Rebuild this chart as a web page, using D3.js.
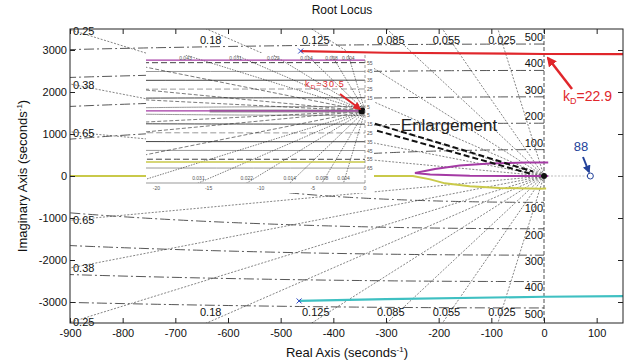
<!DOCTYPE html>
<html>
<head>
<meta charset="utf-8">
<script src="https://cdn.jsdelivr.net/npm/d3@7"></script>
<style>
  body { margin: 0; background: #fff; }
  text { font-family: "Liberation Sans", Arial, sans-serif; }
</style>
</head>
<body>
<div id="chart"></div>
<script>
// --- data ---
const xTicks = [-900, -800, -700, -600, -500, -400, -300, -200, -100, 0, 100];
const yTicks = [-3000, -2000, -1000, 0, 1000, 2000, 3000];
const dampingRatios = [0.025, 0.055, 0.085, 0.125, 0.18, 0.25, 0.38, 0.65];
const freqHz = [100, 200, 300, 400, 500];           // wn circles, labelled in Hz

// root locus branches [real, imag]
const redBranch = [[-462, 2975], [-300, 2935], [0, 2905], [150, 2900]];
const cyanBranch = [[-465, -2975], [-300, -2930], [0, -2875], [150, -2862]];
const yellowBranch = [[-900, 0], [-321, 0], [-249, 0], [-216, -80], [-188, -175], [-141, -245], [-84, -283], [-8, -306], [4, -300]];
const purpleBranch = [[8, 320], [-32, 320], [-103, 297], [-160, 249], [-207, 166], [-245, 71], [-216, 36], [-141, 5], [0, 0], [8, 0]];
const blackBranch1 = [[-321, 1244], [-170, 680], [-21, 107]];
const blackBranch2 = [[-317, 1078], [-170, 560], [-27, 59]];
const zeroPoint = 88;
const gainMain = 22.9;

// enlargement inset
const insetXTicks = [-20, -15, -10, -5, 0];
const insetDamping = [0.004, 0.008, 0.014, 0.022, 0.031, 0.043, 0.067, 0.139, 0.257];
const insetFreqHz = [5, 15, 25, 35, 45, 55, 65];
const insetPurple = [[-21, 364], [0, 364]];
const insetPurpleAxis = [[-21, 0], [0.3, 0]];
const insetYellow = [[-21, -364], [0, -364]];
const insetGrayAxis = [[-14.9, 0], [0, 0]];
const gainInset = 30.5;

// --- layout ---
const W = 635, H = 364;
const m = {left: 70, right: 623, top: 29, bottom: 323};

const svg = d3.select("#chart").append("svg")
  .attr("width", W).attr("height", H);

const defs = svg.append("defs");
defs.append("clipPath").attr("id", "plotClip")
  .append("rect").attr("x", m.left).attr("y", m.top)
  .attr("width", m.right - m.left).attr("height", m.bottom - m.top);

function arrowHead(id, color) {
  defs.append("marker").attr("id", id)
    .attr("viewBox", "0 0 10 10").attr("refX", 8).attr("refY", 5)
    .attr("markerWidth", 4).attr("markerHeight", 4).attr("orient", "auto")
    .append("path").attr("d", "M0,0L10,5L0,10z").attr("fill", color);
}
arrowHead("arRed", "#e0262b");
arrowHead("arBlue", "#23429a");

const x = d3.scaleLinear().domain([-900, 150]).range([m.left, m.right]);
const y = d3.scaleLinear().domain([-3500, 3500]).range([m.bottom, m.top]);
const line = d3.line().x(d => x(d[0])).y(d => y(d[1]));

const plot = svg.append("g").attr("clip-path", "url(#plotClip)");

// damping ratio lines (sgrid)
const far = 20000;
dampingRatios.forEach(z => {
  const s = Math.sqrt(1 - z * z);
  [1, -1].forEach(sign => {
    plot.append("path")
      .attr("d", line([[0, 0], [-far * z, sign * far * s]]))
      .attr("fill", "none").attr("stroke", "#333")
      .attr("stroke-width", 0.6).attr("stroke-dasharray", "2,1.5");
  });
});

// natural frequency circles
const angles = d3.range(90, 270.5, 0.5).map(a => a * Math.PI / 180);
freqHz.forEach(f => {
  const R = 2 * Math.PI * f;
  plot.append("path")
    .attr("d", line(angles.map(a => [R * Math.cos(a), R * Math.sin(a)])))
    .attr("fill", "none").attr("stroke", "#444")
    .attr("stroke-width", 0.9).attr("stroke-dasharray", "10,3,2,3");
});

// imaginary axis and real axis
plot.append("line")
  .attr("x1", x(0)).attr("x2", x(0)).attr("y1", m.top).attr("y2", m.bottom)
  .attr("stroke", "#222").attr("stroke-width", 0.8).attr("stroke-dasharray", "4,2");
plot.append("path")
  .attr("d", line([[0, 0], [zeroPoint, 0]]))
  .attr("stroke", "#bbb").attr("stroke-width", 1).attr("stroke-dasharray", "2,1.5");

// yellow branch (partly under the inset)
plot.append("path").attr("d", line(yellowBranch))
  .attr("fill", "none").attr("stroke", "#c9c94a").attr("stroke-width", 2);

// damping labels
const lab = svg.append("g").attr("font-size", 11).attr("fill", "#111");
dampingRatios.forEach(z => {
  const s = Math.sqrt(1 - z * z);
  const xTop = -3500 * z / s;
  if (xTop >= -900) {
    lab.append("text").attr("x", x(xTop) + 4).attr("y", m.top + 12)
      .attr("text-anchor", "middle").attr("dominant-baseline", "middle").text(z);
    lab.append("text").attr("x", x(xTop) + 4).attr("y", m.bottom - 10)
      .attr("text-anchor", "middle").attr("dominant-baseline", "middle").text(z);
  } else {
    const yl = 900 * s / z;
    lab.append("text").attr("x", m.left + 3).attr("y", y(yl) + 2)
      .attr("dominant-baseline", "middle").text(z);
    lab.append("text").attr("x", m.left + 3).attr("y", y(-yl) + 1)
      .attr("dominant-baseline", "middle").text(z);
  }
});
freqHz.forEach(f => {
  const R = 2 * Math.PI * f;
  lab.append("text").attr("x", x(0) - 1).attr("y", y(R) - 6)
    .attr("text-anchor", "end").attr("dominant-baseline", "middle").text(f);
  lab.append("text").attr("x", x(0) - 1).attr("y", y(-R) + 7)
    .attr("text-anchor", "end").attr("dominant-baseline", "middle").text(f);
});

// purple loop and black dashed branches near origin
plot.append("path").attr("d", line(purpleBranch))
  .attr("fill", "none").attr("stroke", "#a43aa4").attr("stroke-width", 2);
[blackBranch1, blackBranch2].forEach(b => {
  plot.append("path").attr("d", line(b))
    .attr("fill", "none").attr("stroke", "#111").attr("stroke-width", 2)
    .attr("stroke-dasharray", "6,3");
});
plot.append("circle").attr("cx", x(0)).attr("cy", y(0)).attr("r", 3).attr("fill", "#111");

// --- enlargement inset ---
const ix = d3.scaleLinear().domain([-21, 0]).range([146, 365]);
const iy = d3.scaleLinear().domain([-515, 400]).range([183, 55]);
const iline = d3.line().x(d => ix(d[0])).y(d => iy(d[1]));

const inset = svg.append("g");
inset.append("rect").attr("x", 146).attr("y", 53).attr("width", 228).attr("height", 140).attr("fill", "#fff");
defs.append("clipPath").attr("id", "insetClip")
  .append("rect").attr("x", 146).attr("y", 55).attr("width", 219).attr("height", 128);
const ip = inset.append("g").attr("clip-path", "url(#insetClip)");

insetFreqHz.forEach((f, i) => {
  const R = 2 * Math.PI * f;
  ip.append("path")
    .attr("d", iline(angles.map(a => [R * Math.cos(a), R * Math.sin(a)])))
    .attr("fill", "none").attr("stroke", i % 2 ? "#444" : "#999")
    .attr("stroke-width", 1).attr("stroke-dasharray", i % 3 === 2 ? "6,3" : null);
});
insetDamping.forEach(z => {
  const s = Math.sqrt(1 - z * z);
  [1, -1].forEach(sign => {
    ip.append("path").attr("d", iline([[0, 0], [-2000 * z, sign * 2000 * s]]))
      .attr("fill", "none").attr("stroke", "#222").attr("stroke-width", 0.6)
      .attr("stroke-dasharray", z > 0.06 ? "4,2" : "1.5,1.2");
  });
});
ip.append("path").attr("d", iline(insetGrayAxis)).attr("stroke", "#999").attr("stroke-width", 3);
ip.append("path").attr("d", iline(insetPurple)).attr("stroke", "#a43aa4").attr("stroke-width", 1.2);
ip.append("path").attr("d", iline(insetPurpleAxis)).attr("stroke", "#a43aa4").attr("stroke-width", 1.2);
ip.append("path").attr("d", iline(insetYellow)).attr("stroke", "#c9c94a").attr("stroke-width", 1.5);
ip.append("circle").attr("cx", ix(0) - 3).attr("cy", iy(0)).attr("r", 3.5).attr("fill", "#111");

// inset axes
inset.append("line").attr("x1", 146).attr("x2", 365).attr("y1", 183).attr("y2", 183)
  .attr("stroke", "#999").attr("stroke-width", 1);
inset.append("line").attr("x1", 365).attr("x2", 365).attr("y1", 55).attr("y2", 183)
  .attr("stroke", "#888").attr("stroke-width", 0.8).attr("stroke-dasharray", "3,2");
const it = inset.append("g").attr("font-size", 5).attr("fill", "#555");
insetXTicks.forEach(t => {
  it.append("text").attr("x", ix(t)).attr("y", 190).attr("text-anchor", "middle").text(t);
});
insetFreqHz.forEach(f => {
  const R = 2 * Math.PI * f;
  if (R < 400) it.append("text").attr("x", 367).attr("y", iy(R) + 2).text(f);
  it.append("text").attr("x", 367).attr("y", iy(-R) + 2).text(f);
});
insetDamping.forEach(z => {
  const s = Math.sqrt(1 - z * z);
  const xt = -400 * z / s, xb = -515 * z / s;
  if (xt > -21) it.append("text").attr("x", ix(xt)).attr("y", 60).attr("text-anchor", "middle").text(z);
  if (xb > -21) it.append("text").attr("x", ix(xb)).attr("y", 180).attr("text-anchor", "middle").text(z);
});
const kIn = inset.append("text").attr("x", 305).attr("y", 87).attr("fill", "#e0262b")
  .attr("font-size", 9).attr("letter-spacing", 1.2);
kIn.append("tspan").text("k");
kIn.append("tspan").attr("font-size", 6).attr("dy", 2).text("D");
kIn.append("tspan").attr("dy", -2).text("=" + gainInset);
inset.append("line").attr("x1", 340).attr("y1", 94).attr("x2", 360).attr("y2", 109)
  .attr("stroke", "#e0262b").attr("stroke-width", 2).attr("marker-end", "url(#arRed)");

// red / cyan branches on top
const topLayer = svg.append("g").attr("clip-path", "url(#plotClip)");
topLayer.append("path").attr("d", line(redBranch))
  .attr("fill", "none").attr("stroke", "#e0262b").attr("stroke-width", 2.2);
topLayer.append("path").attr("d", line(cyanBranch))
  .attr("fill", "none").attr("stroke", "#3fc0c2").attr("stroke-width", 2.2);
[redBranch[0], cyanBranch[0]].forEach(p => {
  topLayer.append("path").attr("transform", `translate(${x(p[0])},${y(p[1])})`)
    .attr("d", "M-2.5,-2.5L2.5,2.5M-2.5,2.5L2.5,-2.5")
    .attr("stroke", "#2a47c0").attr("stroke-width", 1);
});
topLayer.append("circle").attr("cx", x(zeroPoint)).attr("cy", y(0)).attr("r", 3)
  .attr("fill", "#fff").attr("stroke", "#23429a").attr("stroke-width", 1);

// annotations
svg.append("text").attr("x", 449).attr("y", 131).attr("text-anchor", "middle")
  .attr("font-size", 17).attr("fill", "#222").attr("font-family", "'Open Sans', sans-serif")
  .text("Enlargement");
const kMain = svg.append("text").attr("x", 563).attr("y", 101).attr("fill", "#e0262b").attr("font-size", 14);
kMain.append("tspan").text("k");
kMain.append("tspan").attr("font-size", 9).attr("dy", 3).text("D");
kMain.append("tspan").attr("dy", -3).text("=" + gainMain);
svg.append("line").attr("x1", 572).attr("y1", 89).attr("x2", 548).attr("y2", 58)
  .attr("stroke", "#e0262b").attr("stroke-width", 2.5).attr("marker-end", "url(#arRed)");
svg.append("text").attr("x", 581).attr("y", 151).attr("text-anchor", "middle")
  .attr("fill", "#23429a").attr("font-size", 13).text(zeroPoint);
svg.append("line").attr("x1", 583).attr("y1", 157).attr("x2", 589).attr("y2", 172)
  .attr("stroke", "#23429a").attr("stroke-width", 2).attr("marker-end", "url(#arBlue)");

// --- axes ---
svg.append("rect").attr("x", m.left).attr("y", m.top)
  .attr("width", m.right - m.left).attr("height", m.bottom - m.top)
  .attr("fill", "none").attr("stroke", "#222").attr("stroke-width", 1);

const plain = d => String(d);
svg.append("g").attr("transform", `translate(0,${m.bottom})`)
  .call(d3.axisBottom(x).tickValues(xTicks).tickSize(-5).tickPadding(6).tickFormat(plain))
  .call(g => g.select(".domain").remove());
svg.append("g").attr("transform", `translate(0,${m.top})`)
  .call(d3.axisTop(x).tickValues(xTicks).tickSize(-5).tickFormat(""))
  .call(g => g.select(".domain").remove());
svg.append("g").attr("transform", `translate(${m.left},0)`)
  .call(d3.axisLeft(y).tickValues(yTicks).tickSize(-5).tickPadding(3).tickFormat(plain))
  .call(g => g.select(".domain").remove());
svg.append("g").attr("transform", `translate(${m.right},0)`)
  .call(d3.axisRight(y).tickValues(yTicks).tickSize(-5).tickFormat(""))
  .call(g => g.select(".domain").remove());
svg.selectAll(".tick text").attr("font-size", 11).attr("fill", "#111")
  .attr("font-family", "'Liberation Sans', Arial, sans-serif");
svg.selectAll(".tick line").attr("stroke", "#222");

// titles
svg.append("text").attr("x", 342).attr("y", 14).attr("text-anchor", "middle")
  .attr("font-size", 12).attr("fill", "#111").text("Root Locus");
const xl = svg.append("text").attr("x", 347).attr("y", 357).attr("text-anchor", "middle")
  .attr("font-size", 13).attr("fill", "#111");
xl.append("tspan").text("Real Axis (seconds");
xl.append("tspan").attr("font-size", 8).attr("dy", -5).text("-1");
xl.append("tspan").attr("dy", 5).text(")");
const yl = svg.append("text").attr("transform", "translate(27,176) rotate(-90)")
  .attr("text-anchor", "middle").attr("font-size", 13).attr("fill", "#111");
yl.append("tspan").text("Imaginary Axis (seconds");
yl.append("tspan").attr("font-size", 8).attr("dy", -5).text("-1");
yl.append("tspan").attr("dy", 5).text(")");
</script>
</body>
</html>
